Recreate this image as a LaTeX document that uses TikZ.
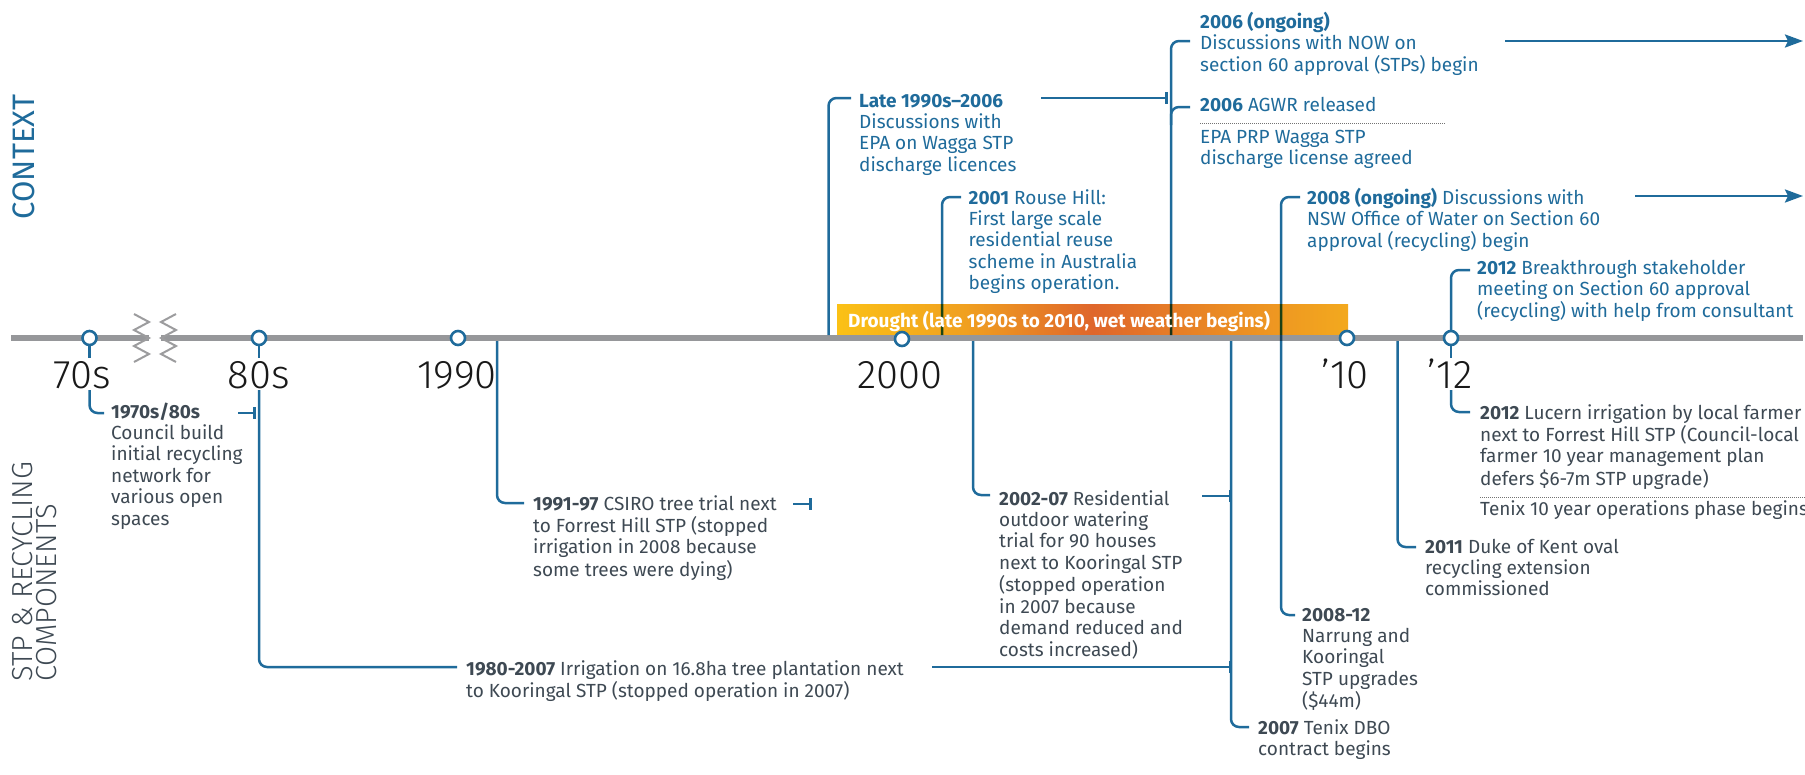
\documentclass[tikz,border=0pt]{standalone}
\usepackage{fontspec}
\setmainfont{Fira Sans}
\newfontfamily\lightfam{Fira Sans Light}
\usetikzlibrary{arrows.meta}
\definecolor{tblue}{HTML}{1F6B9B}
\definecolor{tgray}{HTML}{3E4953}
\definecolor{axisgray}{HTML}{96979A}
\definecolor{zzgray}{HTML}{9C9C9E}
\definecolor{drA}{HTML}{FBC116}
\definecolor{drB}{HTML}{F0A020}
\definecolor{drC}{HTML}{DF662B}
\definecolor{drD}{HTML}{EA8A24}
\definecolor{drE}{HTML}{F3A91E}
\pgfdeclarehorizontalshading{drought}{100bp}{color(0bp)=(drA); color(25bp)=(drA); color(37.5bp)=(drB); color(50bp)=(drC); color(62.5bp)=(drD); color(75bp)=(drE); color(100bp)=(drE)}
\newcommand\evfont{\fontsize{19}{21.4}\selectfont}
\newcommand\yrfont{\lightfam\fontsize{40}{44}\selectfont}
\newcommand\ctxfont{\fontsize{31}{34}\selectfont}
\newcommand\sidefont{\lightfam\fontsize{29}{24}\selectfont}
\newcommand\ev[1]{\begin{tabular}[t]{@{}l@{}}#1\end{tabular}}
\begin{document}
\begin{tikzpicture}[x=1pt,y=-1pt,
  evtext/.style={inner sep=0pt, anchor=base west, font=\evfont},
  ctx/.style={evtext, text=tblue},
  stp/.style={evtext, text=tgray},
  conn/.style={draw=tblue, line width=2.5pt, rounded corners=8pt},
  teeline/.style={draw=tblue, line width=2.5pt, -{Bar[width=12pt,line width=2.6pt]}},
  arrowline/.style={draw=tblue, line width=2.6pt, -{Stealth[length=18pt,width=13pt,inset=3pt]}},
  yrlabel/.style={inner sep=0pt, anchor=base, font=\yrfont, text=black!90},
  yrdot/.style={circle, draw=tblue, fill=white, line width=2.6pt, minimum size=14pt, inner sep=0pt},
  sepline/.style={draw=black!55, line width=0.9pt, dash pattern=on 1pt off 1pt},
  zz/.style={draw=zzgray, line width=2pt}
]
\path[use as bounding box] (0,0) rectangle (1805,774);

% drought bar
\node[anchor=north west, minimum width=511pt, minimum height=32pt, inner sep=0pt, shading=drought] (bar) at (837,304) {};

% axis
\coordinate (axL) at (11,338);
\coordinate (zzL) at (149,338);
\coordinate (zzR) at (161,338);
\coordinate (axR) at (1803,338);
\draw[draw=axisgray, line width=6pt] (axL) -- (zzL);
\draw[draw=axisgray, line width=6pt] (zzR) -- (axR);
\draw[zz] (134,314) -- (149,322) -- (134,330) -- (149,338) -- (134,346) -- (149,354) -- (134,362);
\draw[zz] (176,314) -- (161,322) -- (176,330) -- (161,338) -- (176,346) -- (161,354) -- (176,362);

% ---------- coordinates for connectors
\coordinate (lateA) at (828.5,335); \coordinate (lateB) at (851,98);
\coordinate (lateT1) at (1041,98);  \coordinate (lateT2) at (1168,98);
\coordinate (r01A) at (942,335);    \coordinate (r01B) at (961,197);
\coordinate (s06A) at (1171,335);   \coordinate (s06B) at (1190,41);
\coordinate (s06C) at (1171,125);   \coordinate (s06D) at (1190,107);
\coordinate (arr1A) at (1505,41);   \coordinate (arr1B) at (1803,41);
\coordinate (n08A) at (1300,197);   \coordinate (n08M) at (1281,400); \coordinate (n08B) at (1295,615);
\coordinate (arr2A) at (1635,196);  \coordinate (arr2B) at (1803,196);
\coordinate (b12A) at (1451,331);   \coordinate (b12B) at (1470,270);
\coordinate (s70A) at (89.5,346);   \coordinate (s70B) at (89.5,358);
\coordinate (s70C) at (89.5,390);   \coordinate (s70D) at (104,413);
\coordinate (s70T1) at (238,413);   \coordinate (s70T2) at (256,413);
\coordinate (s80A) at (259,346);    \coordinate (s80B) at (259,358);
\coordinate (s80C) at (259,390);    \coordinate (s80D) at (457,667);
\coordinate (s80T1) at (932,667);   \coordinate (s80T2) at (1232,667);
\coordinate (s90A) at (497,341);    \coordinate (s90B) at (524,503);
\coordinate (s90T1) at (793,504);   \coordinate (s90T2) at (812,504);
\coordinate (s02A) at (973,341);    \coordinate (s02B) at (990,495);
\coordinate (s02T1) at (1202,496);  \coordinate (s02T2) at (1232,496);
\coordinate (s07A) at (1231,341);   \coordinate (s07B) at (1249,727);
\coordinate (s11A) at (1397.5,341); \coordinate (s11B) at (1416,547);
\coordinate (s12A) at (1451,346);   \coordinate (s12B) at (1451,358);
\coordinate (s12C) at (1451,390);   \coordinate (s12D) at (1470,412);

% ---------- context connectors
\draw[conn] (lateA) |- (lateB);
\draw[teeline] (lateT1) -- (lateT2);
\begin{scope}[blend mode=multiply]
\draw[conn] (r01A) |- (r01B);
\draw[conn] (s06A) |- (s06B);
\draw[conn] (n08A) -| (n08M) |- (n08B);
\end{scope}
\draw[conn] (s06C) |- (s06D);
\draw[arrowline] (arr1A) -- (arr1B);
\draw[arrowline] (arr2A) -- (arr2B);
\draw[conn] (b12A) |- (b12B);

% ---------- STP connectors
\draw[conn] (s70A) -- (s70B);
\draw[conn] (s70C) |- (s70D);
\draw[teeline] (s70T1) -- (s70T2);
\draw[conn] (s80A) -- (s80B);
\draw[conn] (s80C) |- (s80D);
\draw[teeline] (s80T1) -- (s80T2);
\draw[conn] (s90A) |- (s90B);
\draw[teeline] (s90T1) -- (s90T2);
\draw[conn] (s02A) |- (s02B);
\draw[teeline] (s02T1) -- (s02T2);
\draw[conn] (s07A) |- (s07B);
\draw[conn] (s11A) |- (s11B);
\draw[conn] (s12A) -- (s12B);
\draw[conn] (s12C) |- (s12D);

% drought text
\node[inner sep=0pt, anchor=base west, text=white, font=\evfont\bfseries] (droughttext) at (848,327) {Drought (late 1990s to 2010, wet weather begins)};

% year dots
\node[yrdot] (c70) at (89.5,338) {};
\node[yrdot] (c80) at (259,338) {};
\node[yrdot] (c90) at (458,338) {};
\node[yrdot] (c00) at (902,339) {};
\node[yrdot] (c10) at (1347,338) {};
\node[yrdot] (c12) at (1451,338) {};

% year labels
\node[yrlabel] (y70) at (82,388) {70s};
\node[yrlabel] (y80) at (259,388) {80s};
\node[yrlabel] (y90) at (457,388) {1990};
\node[yrlabel] (y00) at (900,388) {2000};
\node[yrlabel] (y10) at (1345,388) {’10};
\node[yrlabel] (y12) at (1450,388) {’12};

% side labels
\node[rotate=90, inner sep=0pt, text=tblue, font=\ctxfont] (context) at (24,157) {CONTEXT};
\node[rotate=90, inner sep=0pt, anchor=north west, align=left, text=tgray, font=\sidefont] (stplabel) at (12,682) {STP \& RECYCLING\\COMPONENTS};

% context texts
\node[ctx] (late) at (859,107) {\ev{\textbf{Late 1990s–2006}\\Discussions with\\EPA on Wagga STP\\discharge licences}};
\node[ctx] (rouse) at (968.5,204) {\ev{\textbf{2001} Rouse Hill:\\First large scale\\residential reuse\\scheme in Australia\\begins operation.}};
\node[ctx] (now06) at (1200,28) {\ev{\textbf{2006 (ongoing)}\\Discussions with NOW on\\section 60 approval (STPs) begin}};
\node[ctx] (agwr) at (1200,111) {\textbf{2006} AGWR released};
\coordinate (sep1A) at (1200,123); \coordinate (sep1B) at (1446,123);
\draw[sepline] (sep1A) -- (sep1B);
\node[ctx] (epa) at (1200,143) {\ev{EPA PRP Wagga STP\\discharge license agreed}};
\node[ctx] (now08) at (1307,204) {\ev{\textbf{2008 (ongoing)} Discussions with\\NSW Office of Water on Section 60\\approval (recycling) begin}};
\node[ctx] (break12) at (1477,274) {\ev{\textbf{2012} Breakthrough stakeholder\\meeting on Section 60 approval\\(recycling) with help from consultant}};

% STP texts
\node[stp] (t70) at (111,418) {\ev{\textbf{1970s/80s}\\Council build\\initial recycling\\network for\\various open\\spaces}};
\node[stp] (t80) at (466,675) {\ev{\textbf{1980-2007} Irrigation on 16.8ha tree plantation next\\to Kooringal STP (stopped operation in 2007)}};
\node[stp] (t91) at (533,510) {\ev{\textbf{1991-97} CSIRO tree trial next\\to Forrest Hill STP (stopped\\irrigation in 2008 because\\some trees were dying)}};
\node[stp] (t02) at (999,505) {\ev{\textbf{2002-07} Residential\\outdoor watering\\trial for 90 houses\\next to Kooringal STP\\(stopped operation\\in 2007 because\\demand reduced and\\costs increased)}};
\node[stp] (t07) at (1258,734) {\ev{\textbf{2007} Tenix DBO\\contract begins}};
\node[stp] (t08) at (1302,621) {\ev{\textbf{2008-12}\\Narrung and\\Kooringal\\STP upgrades\\(\$44m)}};
\node[stp] (t11) at (1425,553) {\ev{\textbf{2011} Duke of Kent oval\\recycling extension\\commissioned}};
\node[stp] (t12) at (1480,419) {\ev{\textbf{2012} Lucern irrigation by local farmer\\next to Forrest Hill STP (Council-local\\farmer 10 year management plan\\defers \$6-7m STP upgrade)}};
\coordinate (sep2A) at (1480,497); \coordinate (sep2B) at (1805,497);
\draw[sepline] (sep2A) -- (sep2B);
\node[stp] (tenix) at (1480,515) {Tenix 10 year operations phase begins};
\end{tikzpicture}
\end{document}
